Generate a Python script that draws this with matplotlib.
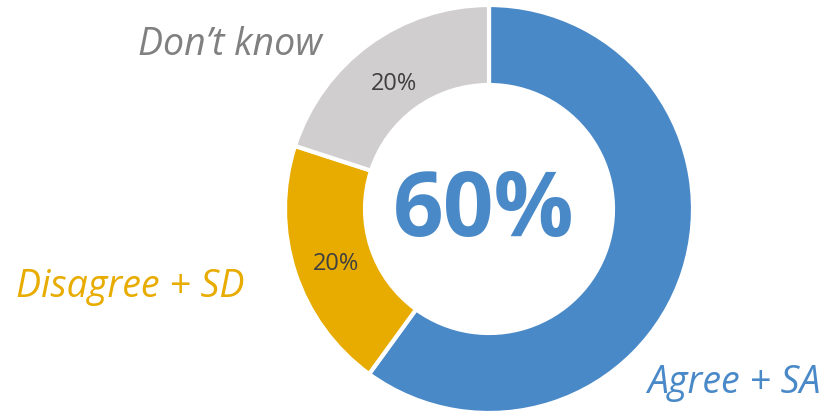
import matplotlib.pyplot as plt

# data
labels = ['Agree + SA', 'Disagree + SD', "Don\u2019t know"]
values = [60, 20, 20]
colors = ['#4A89C8', '#E8AC00', '#D0CECE']
label_colors = ['#4A89C8', '#E8AC00', '#808080']
center_text = '60%'

plt.rcParams['font.family'] = ['Open Sans', 'DejaVu Sans']

fig = plt.figure(figsize=(8.2, 4.15), dpi=100)
ax = fig.add_axes([0, 0, 1, 1])

def pct(p):
    # the big slice gets its number in the middle instead
    return '' if p > 50 else f'{p:.0f}%'

wedges, texts, autotexts = ax.pie(
    values, colors=colors, startangle=90, counterclock=False,
    center=(489, 206), radius=204, autopct=pct, pctdistance=0.79,
    wedgeprops=dict(width=80, edgecolor='white', linewidth=3),
    textprops=dict(color='#404040', fontsize=17))

# nudge the percent labels down a little
for t in autotexts:
    x, y = t.get_position()
    t.set_position((x, y - 5))

ax.set_xlim(0, 820)
ax.set_ylim(0, 415)
ax.set_aspect('auto')
ax.axis('off')

ax.text(484, 202, center_text, ha='center', va='center', fontsize=64,
        fontweight='bold', color=colors[0])

# category labels
ax.text(734, 32, labels[0], ha='center', va='center', fontsize=27,
        style='italic', color=label_colors[0])
ax.text(130, 128, labels[1], ha='center', va='center', fontsize=27,
        style='italic', color=label_colors[1])
ax.text(230, 370, labels[2], ha='center', va='center', fontsize=27,
        style='italic', color=label_colors[2])

fig.savefig('out.png', dpi=100)
